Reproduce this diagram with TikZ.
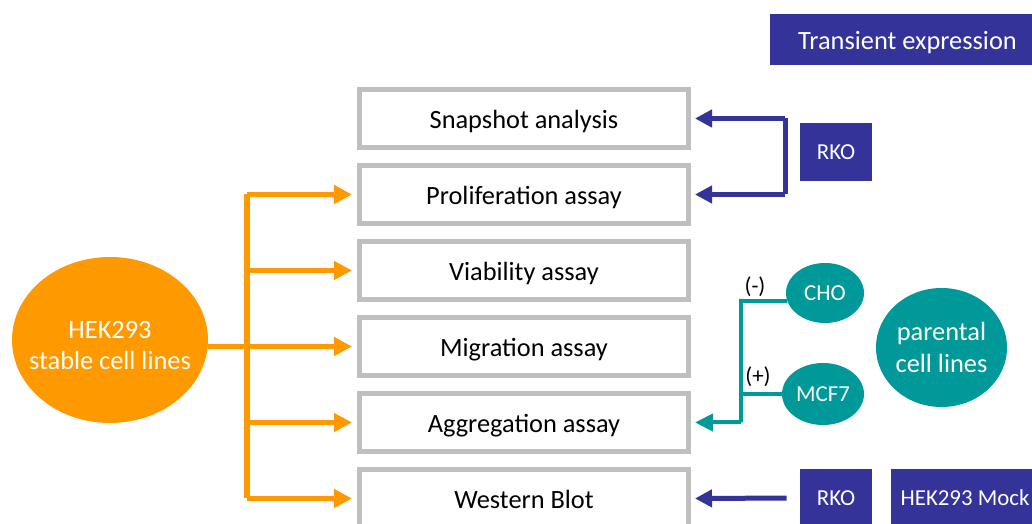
\documentclass[tikz,border=0pt]{standalone}
\usepackage{fontspec}
\setmainfont{Carlito}
\usepackage{tikz}
\usetikzlibrary{arrows.meta, shapes.geometric, positioning, calc}
\definecolor{hekorange}{RGB}{255,153,0}
\definecolor{rkoblue}{RGB}{51,51,153}
\definecolor{cellteal}{RGB}{0,153,153}
\definecolor{boxgray}{RGB}{191,191,191}
\tikzset{assay/.style={draw=boxgray, line width=0.1cm, minimum width=6.58cm, minimum height=1.16cm,
		text height=14pt, text depth=3pt, font=\fontsize{15}{18}\selectfont}}
\tikzset{bluebox/.style={fill=rkoblue, text=white, minimum height=1.16cm, inner sep=0pt,
		font=\fontsize{13}{16}\selectfont}}
\tikzset{cellblob/.style={ellipse, fill=cellteal, text=white, inner sep=0pt, align=center}}
\tikzset{orangeline/.style={hekorange, line width=0.11cm},
	orangearrow/.style={orangeline, shorten >=0.1cm, -{Triangle[length=0.36cm,width=0.36cm]}}}
\tikzset{blueline/.style={rkoblue, line width=0.1cm},
	bluearrow/.style={blueline, shorten >=0.08cm, -{Triangle[length=0.34cm,width=0.34cm]}}}
\tikzset{tealline/.style={cellteal, line width=0.08cm},
	tealarrow/.style={tealline, shorten >=0.08cm, -{Triangle[length=0.36cm,width=0.34cm]}}}

\begin{document}
\begin{tikzpicture}
		\useasboundingbox (0,0) rectangle (20.64,10.48);
		\node[assay] (snap) at (10.48,8.11) {Snapshot analysis};
		\node[assay] (prolif) at (10.48,6.59) {Proliferation assay};
		\node[assay] (via) at (10.48,5.07) {Viability assay};
		\node[assay] (mig) at (10.48,3.55) {Migration assay};
		\node[assay] (agg) at (10.48,2.03) {Aggregation assay};
		\node[assay] (blot) at (10.48,0.51) {Western Blot};
		\node[ellipse, fill=hekorange, text=white, inner ysep=0pt, inner xsep=-0.3cm, minimum width=3.92cm, minimum height=3.32cm,
			align=center, font=\fontsize{15}{17.6}\selectfont] (hek) at (2.2,3.68) {\rule{0pt}{16pt}HEK293\\stable cell lines};
		\coordinate (fork) at (4.94,3.55);
		\draw[orangeline] (fork |- prolif.west) -- (fork |- blot.west);
		\draw[orangearrow] (hek.east |- mig.west) -- (mig.west);
		\draw[orangearrow] (fork |- prolif.west) -- (prolif.west);
		\draw[orangearrow] (fork |- via.west) -- (via.west);
		\draw[orangearrow] (fork |- agg.west) -- (agg.west);
		\draw[orangearrow] (fork |- blot.west) -- (blot.west);
		\node[bluebox, minimum width=5.5cm, minimum height=1.02cm, text height=14pt, text depth=3pt,
			font=\fontsize{15}{18}\selectfont] (trans) at (18.15,9.69) {Transient expression};
		\node[bluebox, minimum width=1.44cm] (rkoa) at (16.72,7.44) {RKO};
		\coordinate (bracket) at (15.7,7.44);
		\draw[blueline] (bracket |- snap.east) -- (bracket |- prolif.east);
		\draw[bluearrow] (bracket |- snap.east) -- (snap.east);
		\draw[bluearrow] (bracket |- prolif.east) -- (prolif.east);
		\node[bluebox, minimum width=1.44cm] (rkob) at (16.72,0.52) {RKO};
		\node[bluebox, minimum width=2.96cm] (mock) at (19.3,0.52) {HEK293 Mock};
		\draw[bluearrow, shorten <=0.26cm] (rkob.west) -- (blot.east);
		\node[cellblob, minimum width=1.56cm, minimum height=1.2cm, font=\fontsize{13}{16}\selectfont] (cho) at (16.5,4.62) {CHO};
		\node[cellblob, minimum width=1.64cm, minimum height=1.24cm, font=\fontsize{13}{16}\selectfont] (mcf) at (16.46,2.6) {MCF7};
		\node[cellblob, minimum width=2.62cm, minimum height=2.38cm, font=\fontsize{15}{18}\selectfont] (parent) at (18.83,3.53) {parental\\cell lines};
		\coordinate (tbar) at (14.82,4.46);
		\draw[tealline] (cho.192) -- (tbar) -- (tbar |- agg.east);
		\draw[tealline] (mcf.west) -- (tbar |- mcf.west);
		\draw[tealarrow] (tbar |- agg.east) -- (agg.east);
		\node[font=\fontsize{13}{16}\selectfont] (minus) at (15.1,4.74) {(-)};
		\node[font=\fontsize{13}{16}\selectfont] (plus) at (15.16,2.94) {(+)};
	\end{tikzpicture}
\end{document}
